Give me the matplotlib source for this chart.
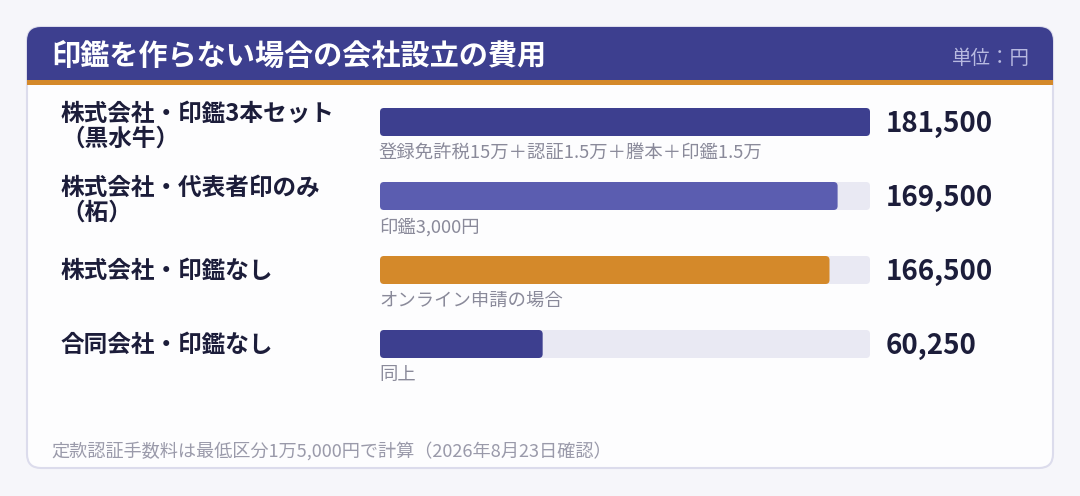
import matplotlib
matplotlib.use("Agg")
import matplotlib.pyplot as plt
from matplotlib.patches import FancyBboxPatch

plt.rcParams['font.family'] = ['Noto Sans CJK JP', 'DejaVu Sans']

# ---- data ----
title = "印鑑を作らない場合の会社設立の費用"
unit_label = "単位：円"
categories = ["株式会社・印鑑3本セット\n（黒水牛）",
              "株式会社・代表者印のみ\n（柘）",
              "株式会社・印鑑なし",
              "合同会社・印鑑なし"]
values = [181500, 169500, 166500, 60250]
notes = ["登録免許税15万＋認証1.5万＋謄本＋印鑑1.5万",
         "印鑑3,000円",
         "オンライン申請の場合",
         "同上"]
bar_colors = ["#3d3f8f", "#5b5db0", "#d4892a", "#3d3f8f"]
footnote = "定款認証手数料は最低区分1万5,000円で計算（2026年8月23日確認）"

W, H = 1080, 496
fig = plt.figure(figsize=(W / 100, H / 100), dpi=100, facecolor="#f6f6fa")

# overlay axes in pixel coordinates
ov = fig.add_axes([0, 0, 1, 1])
ov.set_xlim(0, W)
ov.set_ylim(H, 0)
ov.axis("off")

NAVY = "#3d3f8f"
ORANGE = "#d4892a"
DARK = "#1c1d3a"
GRAY = "#8a8a9a"

# card
card = FancyBboxPatch((27, 27), 1026, 441, boxstyle="round,pad=0,rounding_size=14",
                      facecolor="#fdfdfe", edgecolor="#dcdcec", linewidth=1.5, zorder=1)
ov.add_patch(card)
# header
header = FancyBboxPatch((27, 27), 1026, 58, boxstyle="round,pad=0,rounding_size=14",
                        facecolor=NAVY, edgecolor="none", zorder=2)
ov.add_patch(header)
ov.add_patch(plt.Rectangle((27, 60), 1026, 20, facecolor=NAVY, edgecolor="none", zorder=2))
ov.add_patch(plt.Rectangle((27, 80), 1026, 5, facecolor=ORANGE, edgecolor="none", zorder=3))

ov.text(51, 56, title, color="white", fontsize=21, fontweight="bold",
        va="center", ha="left", zorder=4)
ov.text(1030, 59, unit_label, color="#b7b9e0", fontsize=14,
        va="center", ha="right", zorder=4)

# bar axes
left_px, right_px = 380, 870
row_top, row_h = 85, 74
n = len(values)
bx = fig.add_axes([left_px / W, 1 - (row_top + n * row_h) / H,
                   (right_px - left_px) / W, n * row_h / H])
vmax = max(values)
bx.set_xlim(0, vmax)
bx.set_ylim(n - 0.5, -0.5)
bx.axis("off")
bx.patch.set_alpha(0)

bar_h = 28 / row_h
rad_px = 4
x_per_px = vmax / (right_px - left_px)
y_per_px = 1 / row_h
r = rad_px * x_per_px
aspect = (rad_px * y_per_px) / r

for i, (v, c) in enumerate(zip(values, bar_colors)):
    bx.add_patch(FancyBboxPatch((0, i - bar_h / 2), vmax, bar_h,
                                boxstyle=f"round,pad=0,rounding_size={r}",
                                mutation_aspect=aspect,
                                facecolor="#e9e9f3", edgecolor="none", zorder=1))
    bx.add_patch(FancyBboxPatch((0, i - bar_h / 2), v, bar_h,
                                boxstyle=f"round,pad=0,rounding_size={r}",
                                mutation_aspect=aspect,
                                facecolor=c, edgecolor="none", zorder=2))

# texts per row
LBL = 17
for i, (cat, v, note) in enumerate(zip(categories, values, notes)):
    cy = row_top + 37 + i * row_h
    lines = cat.split("\n")
    if len(lines) == 2:
        ov.text(61, cy - 8, lines[0], color=DARK, fontsize=LBL, fontweight="bold",
                va="center", ha="left", zorder=4)
        ov.text(61, cy + 17, lines[1], color=DARK, fontsize=LBL, fontweight="bold",
                va="center", ha="left", zorder=4)
    else:
        ov.text(61, cy + 1, cat, color=DARK, fontsize=LBL, fontweight="bold",
                va="center", ha="left", zorder=4)
    ov.text(886, cy + 2.5, f"{v:,}", color=DARK, fontsize=20, fontweight="bold",
            va="center", ha="left", zorder=4)
    ov.text(379, cy + 31, note, color=GRAY, fontsize=13.2,
            va="center", ha="left", zorder=4)

ov.text(51, 451, footnote, color="#9a9aaa", fontsize=13.1, va="center", ha="left", zorder=4)

fig.savefig("out.png", dpi=100, facecolor=fig.get_facecolor())
